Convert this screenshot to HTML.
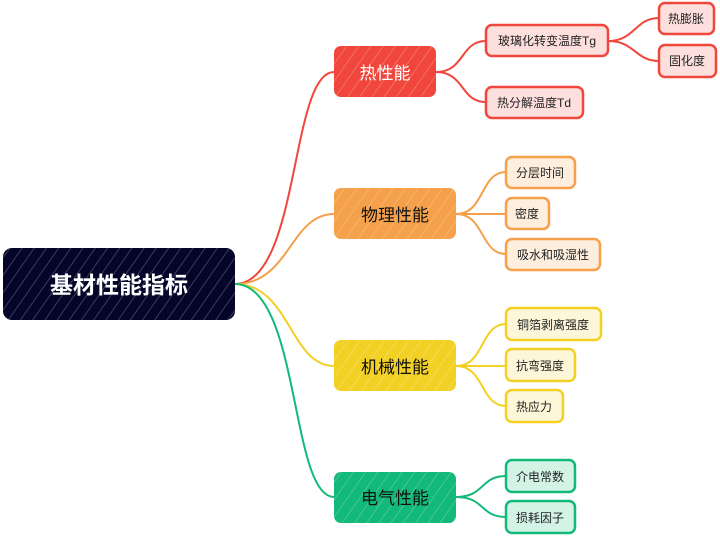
<!DOCTYPE html>
<html><head><meta charset="utf-8"><style>
html,body{margin:0;padding:0;background:#fff;width:720px;height:538px;overflow:hidden}
text{font-family:"Liberation Sans","Noto Sans CJK SC",sans-serif}
</style></head><body>
<svg width="720" height="538" viewBox="0 0 720 538" xmlns="http://www.w3.org/2000/svg">
<defs>
<pattern id="h" width="10" height="10" patternUnits="userSpaceOnUse" patternTransform="rotate(35)">
<line x1="0" y1="0" x2="0" y2="10" stroke="#fff" stroke-opacity="0.35" stroke-width="1.2"/>
</pattern>
</defs>
<g fill="none" stroke-width="2">
<path d="M235,284 C300,284 290,72 334,72" stroke="#f0463c"/>
<path d="M235,284 C290,284 290,214 334,214" stroke="#f5a04a"/>
<path d="M235,284 C290,284 290,366 334,366" stroke="#f2d024"/>
<path d="M235,284 C300,284 290,497 334,497" stroke="#12b978"/>
<path d="M436,72 C465,72 460,41 486,41" stroke="#f0463c"/>
<path d="M436,72 C465,72 460,102 486,102" stroke="#f0463c"/>
<path d="M608,41 C635,41 635,18 659,18" stroke="#f0463c"/>
<path d="M608,41 C635,41 635,61 659,61" stroke="#f0463c"/>
<path d="M456,214 C485,214 480,172 506,172" stroke="#f5a04a"/>
<path d="M456,214 L506,214" stroke="#f5a04a"/>
<path d="M456,214 C485,214 480,254 506,254" stroke="#f5a04a"/>
<path d="M456,366 C485,366 480,324 506,324" stroke="#f2d024"/>
<path d="M456,366 L506,366" stroke="#f2d024"/>
<path d="M456,366 C485,366 480,406 506,406" stroke="#f2d024"/>
<path d="M456,497 C485,497 480,476 506,476" stroke="#12b978"/>
<path d="M456,497 C485,497 480,517 506,517" stroke="#12b978"/>
</g>
<!-- root -->
<rect x="3" y="248" width="232" height="72" rx="9" fill="#05052a"/>
<rect x="3" y="248" width="232" height="72" rx="9" fill="url(#h)"/>
<text x="119" y="293" text-anchor="middle" font-size="23" font-weight="bold" fill="#fff">基材性能指标</text>
<!-- categories -->
<rect x="334" y="46" width="102" height="51" rx="7" fill="#f0463c"/>
<rect x="334" y="46" width="102" height="51" rx="7" fill="url(#h)"/>
<text x="385" y="79" text-anchor="middle" font-size="17" fill="#fff">热性能</text>
<rect x="334" y="188" width="122" height="51" rx="7" fill="#f5a04a"/>
<rect x="334" y="188" width="122" height="51" rx="7" fill="url(#h)"/>
<text x="395" y="221" text-anchor="middle" font-size="17" fill="#111">物理性能</text>
<rect x="334" y="340" width="122" height="51" rx="7" fill="#f2d024"/>
<rect x="334" y="340" width="122" height="51" rx="7" fill="url(#h)"/>
<text x="395" y="373" text-anchor="middle" font-size="17" fill="#111">机械性能</text>
<rect x="334" y="472" width="122" height="51" rx="7" fill="#12b978"/>
<rect x="334" y="472" width="122" height="51" rx="7" fill="url(#h)"/>
<text x="395" y="504" text-anchor="middle" font-size="17" fill="#111">电气性能</text>
<!-- leaves -->
<g stroke-width="2.5" font-size="12">
<rect x="486" y="25" width="122" height="31" rx="6" fill="#fde0dd" stroke="#f0463c"/>
<text x="547" y="45" text-anchor="middle" fill="#222" stroke="none">玻璃化转变温度Tg</text>
<rect x="659" y="3" width="55" height="31" rx="6" fill="#fde0dd" stroke="#f0463c"/>
<text x="686" y="23" text-anchor="middle" fill="#222" stroke="none">热膨胀</text>
<rect x="659" y="45" width="57" height="32" rx="6" fill="#fde0dd" stroke="#f0463c"/>
<text x="687" y="65" text-anchor="middle" fill="#222" stroke="none">固化度</text>
<rect x="486" y="87" width="97" height="31" rx="6" fill="#fde0dd" stroke="#f0463c"/>
<text x="534" y="107" text-anchor="middle" fill="#222" stroke="none">热分解温度Td</text>

<rect x="506" y="157" width="69" height="31" rx="6" fill="#fdeedd" stroke="#f5a04a"/>
<text x="540" y="177" text-anchor="middle" fill="#222" stroke="none">分层时间</text>
<rect x="506" y="198" width="43" height="31" rx="6" fill="#fdeedd" stroke="#f5a04a"/>
<text x="527" y="218" text-anchor="middle" fill="#222" stroke="none">密度</text>
<rect x="506" y="239" width="94" height="31" rx="6" fill="#fdeedd" stroke="#f5a04a"/>
<text x="553" y="259" text-anchor="middle" fill="#222" stroke="none">吸水和吸湿性</text>

<rect x="506" y="308" width="95" height="32" rx="6" fill="#fdf6d8" stroke="#f2d024"/>
<text x="553" y="329" text-anchor="middle" fill="#222" stroke="none">铜箔剥离强度</text>
<rect x="506" y="349" width="69" height="32" rx="6" fill="#fdf6d8" stroke="#f2d024"/>
<text x="540" y="370" text-anchor="middle" fill="#222" stroke="none">抗弯强度</text>
<rect x="506" y="390" width="57" height="32" rx="6" fill="#fdf6d8" stroke="#f2d024"/>
<text x="534" y="411" text-anchor="middle" fill="#222" stroke="none">热应力</text>

<rect x="506" y="460" width="69" height="32" rx="6" fill="#d2f3e6" stroke="#12b978"/>
<text x="540" y="481" text-anchor="middle" fill="#222" stroke="none">介电常数</text>
<rect x="506" y="501" width="69" height="32" rx="6" fill="#d2f3e6" stroke="#12b978"/>
<text x="540" y="522" text-anchor="middle" fill="#222" stroke="none">损耗因子</text>
</g>
</svg>
</body></html>
